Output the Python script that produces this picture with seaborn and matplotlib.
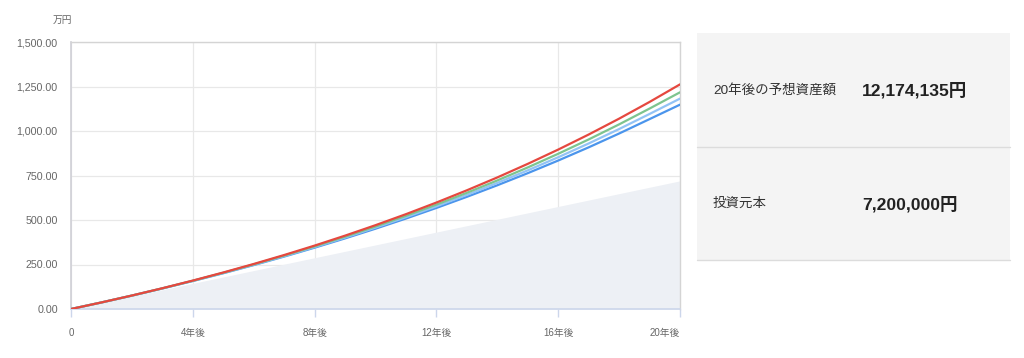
import matplotlib
matplotlib.use("Agg")
import matplotlib.pyplot as plt
from matplotlib.patches import Rectangle
from matplotlib.lines import Line2D
import seaborn as sns
import pandas as pd

# ---- data (万円) ----
years = list(range(0, 21))
principal = [0, 36, 72, 108, 144, 180, 216, 252, 288, 324, 360, 396, 432, 468, 504,
             540, 576, 612, 648, 684, 720]
series_red = [0, 36.9, 75.7, 116.6, 159.7, 205.1, 252.9, 303.2, 356.2, 412.1, 470.9,
              532.8, 598.1, 666.8, 739.1, 815.4, 895.6, 980.2, 1069.3, 1163.2, 1262.0]
series_green = [0, 36.8, 75.5, 116.1, 158.7, 203.5, 250.5, 299.9, 351.8, 406.2, 463.4,
                523.5, 586.5, 652.8, 722.3, 795.3, 872.0, 952.5, 1037.2, 1126.0, 1217.4]
series_lightblue = [0, 36.8, 75.3, 115.7, 157.9, 202.2, 248.6, 297.2, 348.1, 401.4, 457.2,
                    515.7, 577.0, 641.2, 708.4, 778.9, 852.6, 929.9, 1010.9, 1095.7, 1182.0]
series_blue = [0, 36.7, 75.1, 115.2, 157.2, 200.9, 246.7, 294.5, 344.5, 396.7, 451.2,
               508.2, 567.8, 630.1, 695.1, 763.1, 834.1, 908.2, 985.8, 1066.8, 1148.0]

x_ticks = [0, 4, 8, 12, 16, 20]
x_tick_labels = ["0", "4年後", "8年後", "12年後", "16年後", "20年後"]
y_ticks = [0, 250, 500, 750, 1000, 1250, 1500]
y_tick_labels = ["0.00", "250.00", "500.00", "750.00", "1,000.00", "1,250.00", "1,500.00"]
unit_label = "万円"

table_labels = ["20年後の予想資産額", "投資元本"]
table_values = ["12,174,135円", "7,200,000円"]

# ---- style ----
sns.set_theme(style="white")
plt.rcParams["font.family"] = ["Liberation Sans", "Noto Sans CJK JP", "DejaVu Sans"]

fig = plt.figure(figsize=(10.24, 3.58), dpi=100)
fig.patch.set_facecolor("white")
ax = fig.add_axes([71 / 1024, 1 - 309 / 358, 609 / 1024, 267 / 358])

names = ["blue", "lightblue", "green", "red"]
df = pd.DataFrame({
    "year": years * 4,
    "value": series_blue + series_lightblue + series_green + series_red,
    "series": sum([[n] * len(years) for n in names], []),
})
palette = {"red": "#e5483f", "green": "#7dc48f", "lightblue": "#92c3f5", "blue": "#4b95ec"}

ax.fill_between(years, 0, principal, color="#edf0f5", linewidth=0, zorder=1)
sns.lineplot(data=df, x="year", y="value", hue="series", hue_order=names,
             palette=palette, legend=False, linewidth=1.6, ax=ax, zorder=3)

ax.set_xlim(0, 20)
ax.set_ylim(0, 1500)
ax.set_xticks(x_ticks)
ax.set_xticklabels(x_tick_labels)
ax.set_yticks(y_ticks)
ax.set_yticklabels(y_tick_labels)
ax.set_xlabel("")
ax.set_ylabel("")
ax.grid(True, color="#e8e8e8", linewidth=0.9, zorder=0)
ax.set_axisbelow(True)

for s in ["top", "right"]:
    ax.spines[s].set_color("#d4d4d4")
    ax.spines[s].set_linewidth(1.0)
ax.spines["left"].set_color("#cfcfd6")
ax.spines["left"].set_linewidth(1.2)
ax.spines["bottom"].set_color("#ccd6eb")
ax.spines["bottom"].set_linewidth(1.2)

ax.tick_params(axis="x", which="both", length=6, color="#ccd6eb", width=1,
               labelsize=7, labelcolor="#666666", pad=8, direction="out", bottom=True)
ax.tick_params(axis="y", length=0, labelsize=7.7, labelcolor="#666666", pad=9.5)
# keep the last x label inside the plot's right edge
ax.get_xticklabels()[-1].set_horizontalalignment("right")

fig.text(62 / 1024, 1 - 20 / 358, unit_label, ha="center", va="center",
         fontsize=7, color="#666666")

# ---- right summary panel ----
px0, px1 = 697 / 1024, 1010 / 1024
rows_y = [(33, 147), (147, 260)]
for (top, bot) in rows_y:
    fig.add_artist(Rectangle((px0, 1 - bot / 358), px1 - px0, (bot - top) / 358,
                             transform=fig.transFigure, facecolor="#f4f4f4",
                             edgecolor="none", zorder=0))
for yline in [147, 260]:
    fig.add_artist(Line2D([px0, px1], [1 - yline / 358] * 2, transform=fig.transFigure,
                          color="#dcdcdc", linewidth=1.0))

for lab, val, yc in zip(table_labels, table_values, [90, 204]):
    fig.text(713 / 1024, 1 - yc / 358, lab, ha="left", va="center",
             fontsize=9.7, color="#333333")
    fig.text(862 / 1024, 1 - yc / 358, val, ha="left", va="center",
             fontsize=12.6, fontweight="bold", color="#222222")

fig.savefig("out.png", dpi=100, facecolor="white")
